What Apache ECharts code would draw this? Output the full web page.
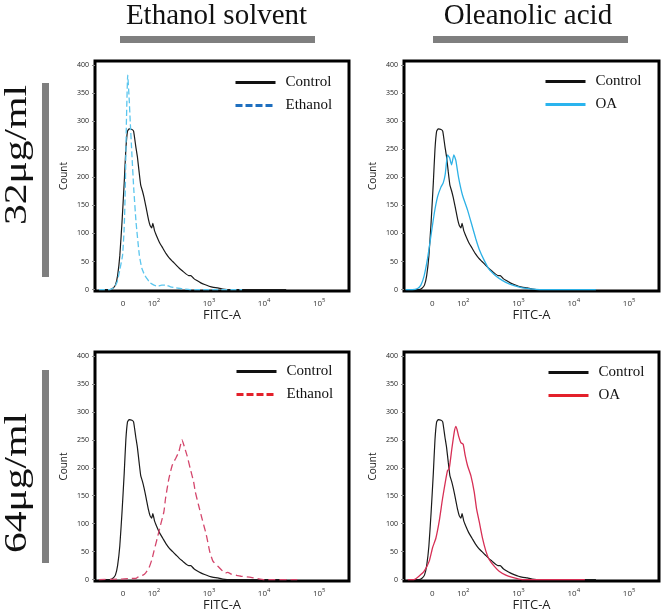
<!DOCTYPE html>
<html><head><meta charset="utf-8">
<script src="https://cdn.jsdelivr.net/npm/echarts@6/dist/echarts.min.js"></script>
<style>html,body{margin:0;padding:0;background:#fff}#c{width:666px;height:615px}</style>
</head><body><div id="c"></div>
<script>
// ---- text / ticks ----
const columnTitles = ['Ethanol solvent', 'Oleanolic acid'];
const rowTitles = ['32μg/ml', '64μg/ml'];
// FITC-A axis in display units (biexponential: 10^n drawn at n, 0 drawn at 1.44)
const fitcTickPos = [1.44, 2, 3, 4, 5];
const fitcTickLabels = ['0', '10²', '10³', '10⁴', '10⁵'];
const countTicks = [0, 50, 100, 150, 200, 250, 300, 350, 400];

// ---- histograms: [FITC display position, count] ----
const controlCurve = [[1.00,0],[1.20,0],[1.25,2],[1.30,8],[1.34,25],[1.38,60],[1.42,120],[1.46,190],[1.49,250],[1.52,282],
  [1.55,286],[1.60,285],[1.63,282],[1.67,255],[1.70,236],[1.73,210],[1.76,186],[1.79,176],[1.82,164],[1.86,145],
  [1.90,125],[1.93,114],[1.96,110],[1.98,118],[2.01,105],[2.05,95],[2.10,84],[2.16,74],[2.22,64],[2.28,56],
  [2.34,50],[2.40,44],[2.46,38],[2.52,33],[2.58,28],[2.63,25],[2.67,25],[2.72,20],[2.78,16],[2.85,12],
  [2.92,9],[3.00,6],[3.08,4],[3.16,3],[3.25,1],[3.40,0],[4.40,0]];
const ethanol32Curve = [[1.00,0],[1.20,0],[1.28,4],[1.33,13],[1.38,35],[1.43,61],[1.46,110],[1.48,180],[1.50,298],[1.524,382],
  [1.55,340],[1.57,298],[1.60,240],[1.633,180],[1.675,120],[1.735,61],[1.78,38],[1.83,26],[1.87,20],[1.93,12],
  [2.00,8],[2.07,6],[2.14,8],[2.22,8],[2.30,5],[2.40,3],[2.55,1],[2.65,0],[3.60,0]];
const oa32Curve = [[0.96,0],[1.08,0],[1.175,2],[1.235,8],[1.295,25],[1.355,55],[1.416,95],[1.476,135],[1.536,165],[1.596,182],
  [1.639,190],[1.675,205],[1.717,240],[1.753,235],[1.789,222],[1.831,240],[1.867,230],[1.916,200],[1.988,168],[2.078,142],
  [2.157,115],[2.229,90],[2.289,72],[2.38,52],[2.47,36],[2.56,27],[2.65,20],[2.77,13],[2.92,7],[3.07,3],
  [3.25,1],[3.49,0],[4.40,0]];
const ethanol64Curve = [[1.00,0],[1.40,1],[1.55,2],[1.67,2],[1.73,6],[1.80,8],[1.85,12],[1.91,21],[1.96,35],[2.00,51],
  [2.06,74],[2.12,98],[2.18,121],[2.21,145],[2.27,180],[2.33,204],[2.39,216],[2.45,228],[2.51,250],[2.55,238],
  [2.60,222],[2.66,198],[2.72,175],[2.75,157],[2.81,133],[2.87,110],[2.95,80],[3.01,51],[3.07,33],[3.16,24],
  [3.25,15],[3.30,12],[3.34,13],[3.40,10],[3.46,9],[3.52,7],[3.58,6],[3.76,4],[4.00,0],[4.60,0]];
const oa64Curve = [[1.00,0],[1.11,0],[1.20,6],[1.295,15],[1.386,33],[1.446,57],[1.506,74],[1.566,104],[1.627,145],[1.687,180],
  [1.717,195],[1.747,198],[1.795,234],[1.837,263],[1.867,274],[1.89,268],[1.916,257],[1.958,245],[2.00,242],[2.036,222],
  [2.078,204],[2.139,186],[2.199,157],[2.241,127],[2.289,104],[2.349,74],[2.41,51],[2.47,36],[2.56,24],[2.65,15],
  [2.77,8],[2.89,4],[3.01,1],[3.13,0],[4.20,0]];

const panels = [
  { grid:{left:95,top:61,width:254,height:230}, name:'Ethanol', curve:ethanol32Curve, color:'#5cc6ee', legendColor:'#1e6fbf', type:[6,3], legendType:[7,3], legend:{left:234,top:74} },
  { grid:{left:404,top:61,width:255,height:230}, name:'OA', curve:oa32Curve, color:'#2db1e6', legendColor:'#2ab4ee', type:'solid', legendType:'solid', legend:{left:544,top:73} },
  { grid:{left:95,top:352,width:254,height:229}, name:'Ethanol', curve:ethanol64Curve, color:'#d4466c', legendColor:'#e3202a', type:[7,4], legendType:[7,3], legend:{left:235,top:363} },
  { grid:{left:404,top:352,width:255,height:229}, name:'OA', curve:oa64Curve, color:'#d72f55', legendColor:'#e3202a', type:'solid', legendType:'solid', legend:{left:547,top:364} }
];

const sans = '"Open Sans", sans-serif';
const serif = '"Liberation Serif", "Times New Roman", serif';

function fitcLabel(v) {
  const k = fitcTickPos.findIndex(t => Math.abs(t - v) < 1e-6);
  if (k < 0) return '';
  const s = fitcTickLabels[k];
  if (s.length < 3) return '{b|' + s + '}';
  return '{b|10}{s|' + '²³⁴⁵'.indexOf(s.slice(2)) .toString().replace(/^(\d)$/, d => String(+d + 2)) + '}';
}

const option = {
  animation: false,
  backgroundColor: '#fff',
  grid: panels.map(p => Object.assign({show:true, borderColor:'#000', borderWidth:3, backgroundColor:'transparent'}, p.grid)),
  xAxis: panels.map((p, i) => ({
    gridIndex: i, type: 'value', min: 0.93, max: 5.54,
    axisLine: {show:false}, splitLine: {show:false}, axisTick: {show:false},
    axisLabel: {
      customValues: fitcTickPos,
      formatter: fitcLabel,
      margin: 6,
      rich: {
        b: {fontSize: 8, color: '#333', fontFamily: sans, verticalAlign: 'bottom', lineHeight: 11},
        s: {fontSize: 6, color: '#333', fontFamily: sans, verticalAlign: 'top', lineHeight: 7}
      }
    },
    name: 'FITC-A', nameLocation: 'middle', nameGap: 18,
    nameTextStyle: {fontSize: 13, fontFamily: sans, color: '#222'}
  })),
  yAxis: panels.map((p, i) => ({
    gridIndex: i, type: 'value', min: -2.5, max: 407,
    axisLine: {show:false}, splitLine: {show:false},
    axisTick: {show:true, customValues: countTicks, length: 3, lineStyle: {color:'#888', width:1}},
    axisLabel: {customValues: countTicks, fontSize: 7, color: '#222', margin: 6, fontFamily: sans},
    name: 'Count', nameLocation: 'middle', nameGap: 26,
    nameTextStyle: {fontSize: 10, fontFamily: sans, color: '#222'}
  })),
  legend: panels.map(p => ({
    orient: 'vertical', left: p.legend.left, top: p.legend.top + 1, padding: 0,
    itemWidth: 40, itemHeight: 14, itemGap: 8,
    selectedMode: false,
    textStyle: {fontFamily: serif, fontSize: 15, color: '#111', padding: [0,0,0,5]},
    data: [
      {name: 'Control', lineStyle: {color:'#111', width:3, type:'solid'}, itemStyle:{opacity:0}},
      {name: p.name, lineStyle: {color:p.legendColor, width:3, type:p.legendType}, itemStyle:{opacity:0}}
    ]
  })),
  series: [],
  graphic: []
};

panels.forEach((p, i) => {
  option.series.push({
    type: 'line', name: 'Control', xAxisIndex: i, yAxisIndex: i, data: controlCurve,
    symbol: 'none', smooth: 0.15, z: 2, silent: true,
    itemStyle: {color: '#1a1a1a'}, lineStyle: {color: '#1a1a1a', width: 1.2}
  });
  option.series.push({
    type: 'line', name: p.name, xAxisIndex: i, yAxisIndex: i, data: p.curve,
    symbol: 'none', smooth: 0.15, z: 3, silent: true,
    itemStyle: {color: p.color}, lineStyle: {color: p.color, width: 1.3, type: p.type}
  });
});

// column headings with grey bars
const headX = [216.5, 528];
const barX = [[120, 315], [433, 628]];
columnTitles.forEach((t, k) => {
  option.graphic.push({type:'text', x: headX[k], y: 16, style:{text: t, font: '29px ' + serif, fill:'#111', align:'center', verticalAlign:'middle'}});
  option.graphic.push({type:'rect', shape:{x: barX[k][0], y: 36, width: barX[k][1]-barX[k][0], height: 7}, style:{fill:'#7f7f7f'}});
});
// row headings with grey bars
const rowY = [155, 483];
const rowBar = [[83, 277], [370, 563]];
rowTitles.forEach((t, k) => {
  option.graphic.push({type:'text', x: 18, y: rowY[k], rotation: Math.PI/2, scaleX: 1.3,
    style:{text: t, font: '32px ' + serif, fill:'#111', align:'center', verticalAlign:'middle'}});
  option.graphic.push({type:'rect', shape:{x: 42, y: rowBar[k][0], width: 7, height: rowBar[k][1]-rowBar[k][0]}, style:{fill:'#7f7f7f'}});
});

const chart = echarts.init(document.getElementById('c'), null, {renderer:'canvas'});
chart.setOption(option);
</script>
</body></html>
